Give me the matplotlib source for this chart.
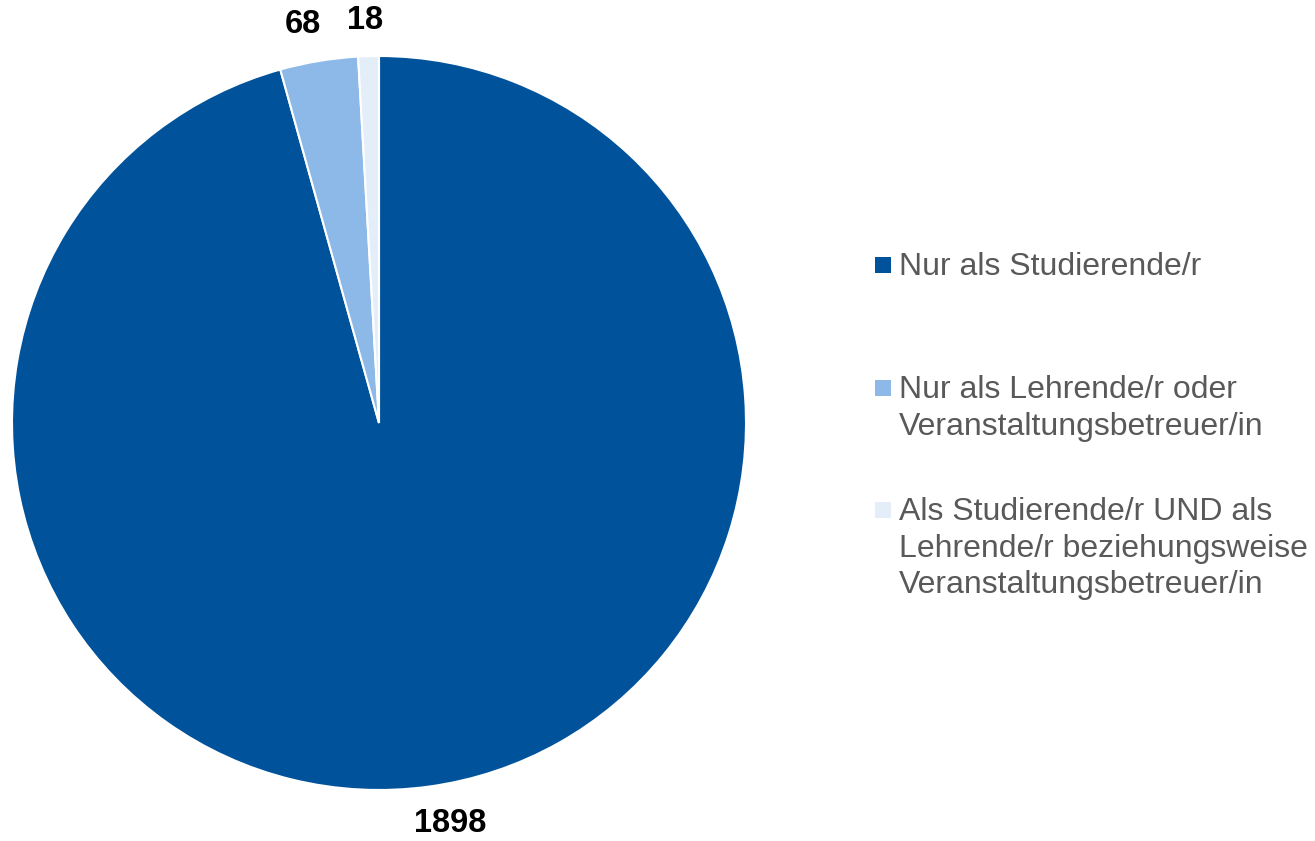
import matplotlib
matplotlib.use("Agg")
import matplotlib.pyplot as plt
from matplotlib.patches import Rectangle

plt.rcParams['font.family'] = ['Liberation Sans', 'DejaVu Sans']

categories = ["Nur als Studierende/r",
              "Nur als Lehrende/r oder\nVeranstaltungsbetreuer/in",
              "Als Studierende/r UND als\nLehrende/r beziehungsweise\nVeranstaltungsbetreuer/in"]
values = [1898, 68, 18]
colors = ["#00529B", "#8DB9E8", "#E4EEF9"]
label_pos = [(0.193, -1.09), (-0.207, 1.087), (-0.038, 1.098)]

W, H = 1315, 841
fig = plt.figure(figsize=(W / 100, H / 100), dpi=100)
cx, cy, R = 379, 423, 367
ax = fig.add_axes([(cx - R) / W, (H - cy - R) / H, 2 * R / W, 2 * R / H])
wedges, texts = ax.pie(values, colors=colors, startangle=90, counterclock=False,
                       labels=[str(v) for v in values], labeldistance=1.1,
                       wedgeprops=dict(edgecolor="white", linewidth=1.5))
for t, p in zip(texts, label_pos):
    t.set_position(p)
    t.set_ha("center")
    t.set_va("center")
    t.set_fontsize(23.5)
    t.set_fontweight("bold")
    t.set_color("black")
ax.set_xlim(-1, 1)
ax.set_ylim(-1, 1)
ax.set_aspect("equal")
ax.axis("off")

# legend
baselines = [275, 398, 520]
line_step = 36.7
for cat, col, yb in zip(categories, colors, baselines):
    fig.patches.append(Rectangle((875 / W, (H - (yb - 2)) / H), 16 / W, 16 / H,
                                 transform=fig.transFigure, facecolor=col,
                                 edgecolor="none"))
    for i, line in enumerate(cat.split("\n")):
        fig.text(899 / W, (H - (yb + i * line_step)) / H, line, ha="left",
                 va="baseline", fontsize=23, color="#595959")

fig.savefig("out.png", dpi=100)
